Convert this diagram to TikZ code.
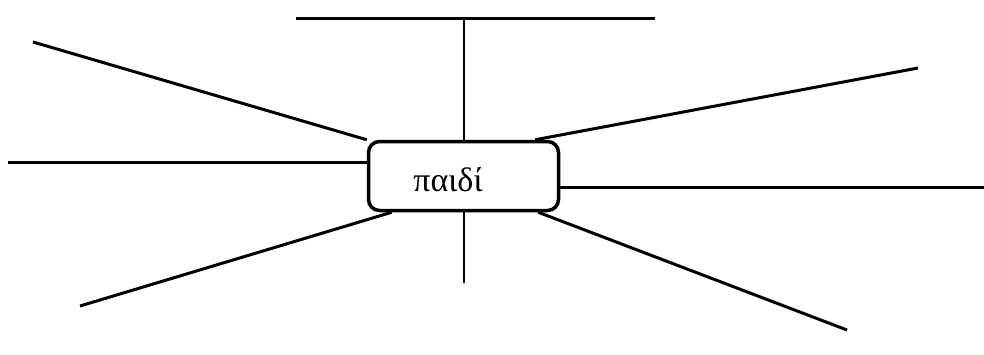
\documentclass[tikz,border=0pt]{standalone}
\usepackage{fontspec}
\setmainfont{Liberation Serif}
\usepackage{tikz}

\begin{document}
\begin{tikzpicture}[x=1pt, y=-1pt,
    spoke/.style={line width=3pt},
    stem/.style={line width=2pt},
    wordbox/.style={draw, line width=3.5pt, rounded corners=11pt, minimum width=190pt, minimum height=69pt, inner sep=0pt}]
    \useasboundingbox (0,0) rectangle (984,354);
    \node[wordbox] (box) at (463.5,176) {};
    \node[font=\fontsize{34}{38}\selectfont] (word) at (448,180) {παιδί};

    % free ends
    \coordinate (barL) at (296,18);
    \coordinate (barR) at (655,18);
    \coordinate (barM) at (463.5,18);
    \coordinate (ul) at (33,42);
    \coordinate (l) at (8,162);
    \coordinate (ur) at (918,68);
    \coordinate (r) at (984,187);
    \coordinate (ll) at (80,306);
    \coordinate (d) at (463.5,283);
    \coordinate (lr) at (847,330);

    \draw[spoke] (barL) -- (barR);
    \draw[stem] (barM) -- (box.north);
    \draw[stem] (box.south) -- (d);
    \draw[spoke] (box.north west) -- (ul);
    \draw[spoke] ([yshift=14pt]box.west) -- (l);
    \draw[spoke] ([xshift=-25pt]box.north east) -- (ur);
    \draw[spoke] ([yshift=-11pt]box.east) -- (r);
    \draw[spoke] ([xshift=25pt]box.south west) -- (ll);
    \draw[spoke] ([xshift=-22pt]box.south east) -- (lr);
  \end{tikzpicture}
\end{document}
